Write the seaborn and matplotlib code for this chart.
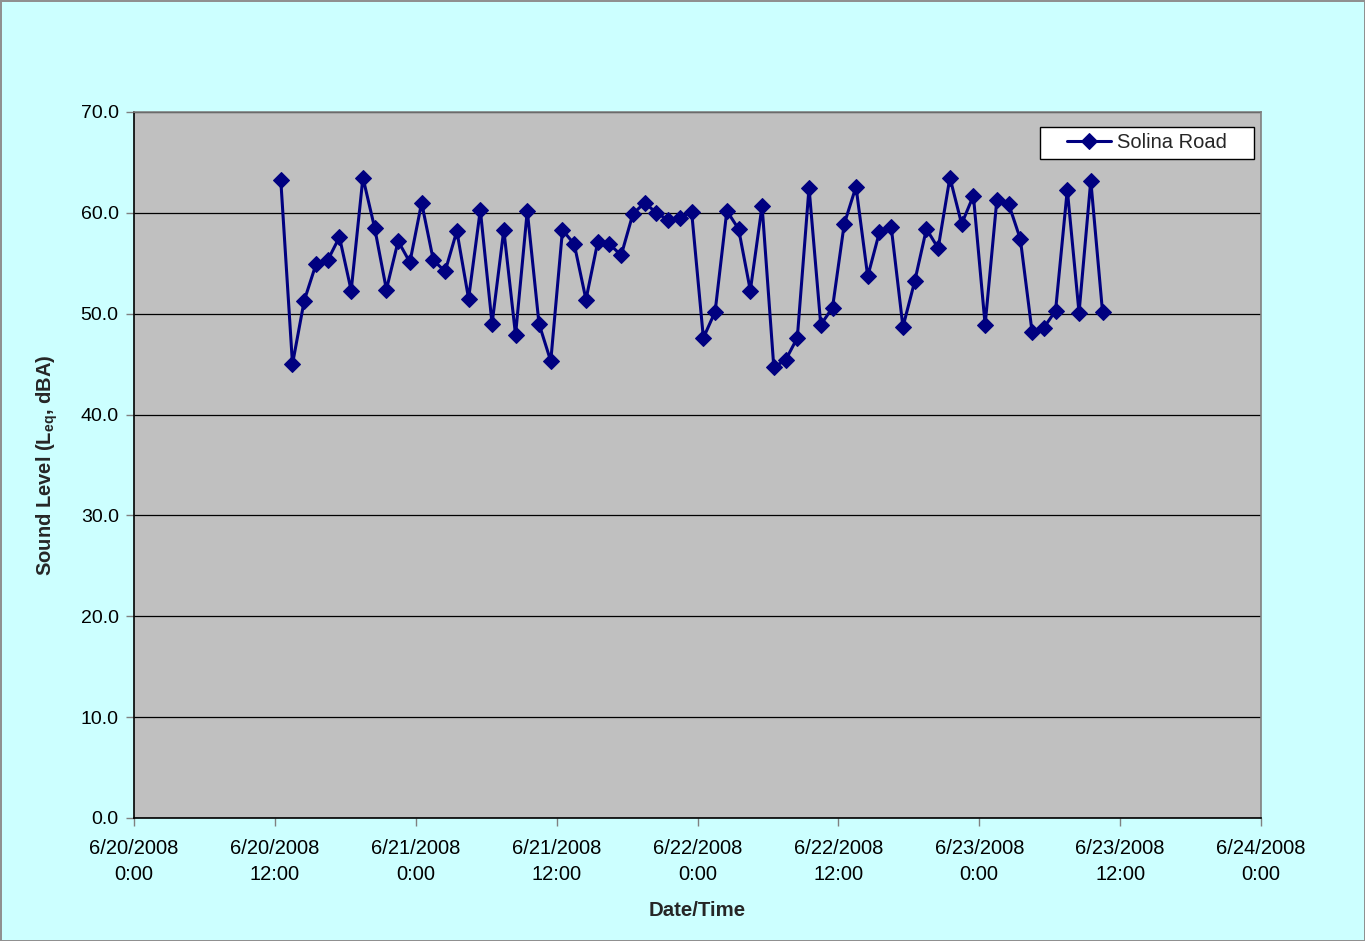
import matplotlib
matplotlib.use("Agg")
import matplotlib.pyplot as plt
from matplotlib.patches import Rectangle
import seaborn as sns
import pandas as pd
import numpy as np

# ---- data ----
series_name = "Solina Road"
start_time = "2008-06-20 12:30"
levels = [63.3, 45.0, 51.3, 54.9, 55.3, 57.6, 52.3, 63.5, 58.5, 52.4,
          57.2, 55.1, 61.0, 55.3, 54.2, 58.2, 51.5, 60.3, 49.0, 58.3,
          47.9, 60.2, 49.0, 45.3, 58.3, 56.9, 51.4, 57.1, 56.9, 55.8,
          59.9, 61.0, 60.0, 59.3, 59.5, 60.1, 47.6, 50.2, 60.2, 58.4,
          52.3, 60.7, 44.7, 45.4, 47.6, 62.5, 48.9, 50.6, 58.9, 62.6,
          53.7, 58.1, 58.6, 48.7, 53.2, 58.4, 56.5, 63.5, 58.9, 61.7,
          48.9, 61.3, 60.9, 57.4, 48.2, 48.6, 50.3, 62.3, 50.1, 63.2,
          50.2]
x_ticks = ["2008-06-20 00:00", "2008-06-20 12:00", "2008-06-21 00:00",
           "2008-06-21 12:00", "2008-06-22 00:00", "2008-06-22 12:00",
           "2008-06-23 00:00", "2008-06-23 12:00", "2008-06-24 00:00"]
x_tick_labels = ["6/20/2008\n0:00", "6/20/2008\n12:00", "6/21/2008\n0:00",
                 "6/21/2008\n12:00", "6/22/2008\n0:00", "6/22/2008\n12:00",
                 "6/23/2008\n0:00", "6/23/2008\n12:00", "6/24/2008\n0:00"]
y_ticks = [0, 10, 20, 30, 40, 50, 60, 70]

times = pd.date_range(start_time, periods=len(levels), freq="h")
df = pd.DataFrame({"Date/Time": times, "Level": levels, "Site": series_name})

sns.set_theme(style="white")
plt.rcParams["font.family"] = ["Liberation Sans", "DejaVu Sans"]

W, H = 1365, 941
fig = plt.figure(figsize=(W / 100, H / 100), dpi=100)
fig.patch.set_facecolor("#CCFFFF")
fig.patch.set_edgecolor("#909090")
fig.patch.set_linewidth(1.0)
ax = fig.add_axes([134 / W, 1 - 818 / H, (1261 - 134) / W, (818 - 112) / H])
ax.set_facecolor("#C0C0C0")

sns.lineplot(data=df, x="Date/Time", y="Level", hue="Site", palette=["#000080"],
             marker="D", markersize=8, markeredgecolor="#000080", linewidth=2.2,
             ax=ax)

xt = pd.to_datetime(x_ticks)
ax.set_xlim(xt[0], xt[-1])
ax.set_xticks(xt)
ax.set_xticklabels(x_tick_labels, fontsize=14.5, linespacing=1.5)
ax.set_ylim(y_ticks[0], y_ticks[-1])
ax.set_yticks(y_ticks)
ax.set_yticklabels([f"{v:.1f}" for v in y_ticks], fontsize=14)

ax.grid(axis="y", color="black", linewidth=0.9)
ax.grid(axis="x", visible=False)
ax.set_axisbelow(True)

ax.tick_params(axis="both", which="major", direction="out", length=6,
               width=1, color="#808080", colors="black")
ax.tick_params(axis="x", pad=9)
ax.tick_params(axis="y", pad=5)
ax.tick_params(axis="both", bottom=True, left=True)
for s in ["left", "bottom"]:
    ax.spines[s].set_color("black")
    ax.spines[s].set_linewidth(1.2)
for s in ["top", "right"]:
    ax.spines[s].set_color("#808080")
    ax.spines[s].set_linewidth(1.2)

ax.set_xlabel("Date/Time", fontsize=14.7, fontweight="bold", labelpad=12)
ax.set_ylabel(r"Sound Level (L$_{\mathregular{eq}}$, dBA)", fontsize=14.5,
              fontweight="bold", labelpad=15)

# legend box spans x 1040..1254 px, y 127..159 px in the reference
pw, ph = 1261 - 134, 818 - 112
lx0 = (1040 - 134) / pw
lw = (1254 - 1040) / pw
ly0 = (818 - 159) / ph
lh = (159 - 127) / ph
ax.add_patch(Rectangle((lx0, ly0), lw, lh, transform=ax.transAxes,
                       facecolor="white", edgecolor="black", linewidth=1.0,
                       zorder=4))
leg = ax.legend(loc="center", bbox_to_anchor=(lx0, ly0, lw, lh),
                fontsize=14.5, frameon=False, handlelength=2.2,
                handletextpad=0.3, borderpad=0.0, borderaxespad=0)
leg.set_zorder(5)
for h in leg.legend_handles:
    h.set_markersize(8)

fig.savefig("out.png", dpi=100, facecolor=fig.get_facecolor(),
            edgecolor=fig.get_edgecolor())
